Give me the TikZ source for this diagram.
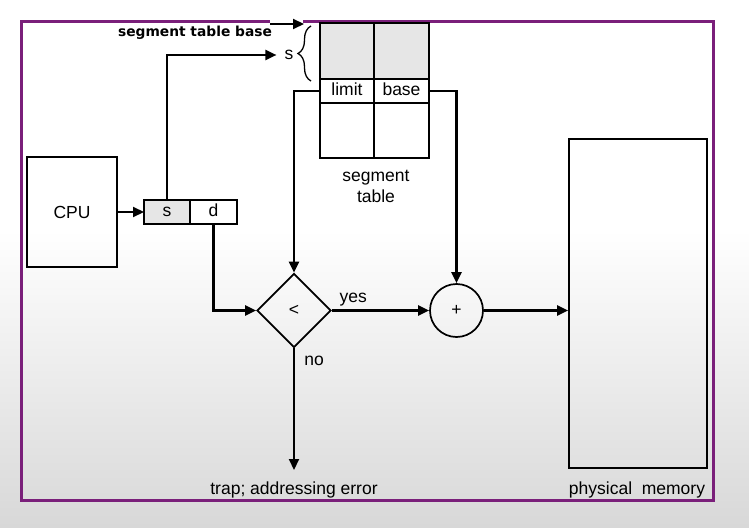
\documentclass[tikz,border=0pt]{standalone}
\usepackage{fontspec}
\setmainfont{Liberation Sans}
\newfontfamily\basefont{DejaVu Sans}
\usetikzlibrary{arrows.meta,positioning,shapes.geometric,decorations.pathreplacing}
\definecolor{framepurple}{HTML}{7A1F7A}
\definecolor{cellgray}{HTML}{E6E6E6}
\definecolor{bggray}{HTML}{D8D8D8}

\begin{document}
\begin{tikzpicture}[
  x=1pt, y=-1pt,
  every node/.style={font=\fontsize{17.5}{21}\selectfont},
  box/.style={draw, line width=1.7pt, inner sep=0pt},
  cell/.style={box, outer sep=0pt, minimum height=24pt, text height=12pt, text depth=3.5pt},
  tabcell/.style={box, outer sep=0pt},
  arrow/.style={-{Triangle[length=11pt,width=10pt]}, line width=2.1pt},
  framebox/.style={draw=framepurple, line width=3pt},
  bracemark/.style={line width=1.3pt, decorate, decoration={brace, amplitude=13pt}}
]
  \useasboundingbox (0,0) rectangle (749,527);

  % background and purple frame
  \fill[white] (0,0) rectangle (749,230);
  \shade[top color=white, bottom color=bggray] (0,230) rectangle (749,527);
  \draw[framebox] (270,21.5) -| (21.5,500.5) -| (713,21.5) -- (303,21.5);

  % CPU and logical address
  \node[box, minimum width=90pt, minimum height=110pt] (cpu) at (72,212) {CPU};
  \node[cell, fill=cellgray, minimum width=46pt] (scell) at (167,212) {s};
  \node[cell, minimum width=47pt, right=0pt of scell] (dcell) {d};

  % segment table
  \node[tabcell, fill=cellgray, minimum width=54pt, minimum height=56pt] (topl) at (347,51) {};
  \node[tabcell, fill=cellgray, minimum width=55pt, minimum height=56pt, right=0pt of topl] (topr) {};
  \node[cell, minimum width=54pt, below=0pt of topl] (limit) {limit};
  \node[cell, minimum width=55pt, below=0pt of topr] (base) {base};
  \node[tabcell, minimum width=54pt, minimum height=55pt, below=0pt of limit] (botl) {};
  \node[tabcell, minimum width=55pt, minimum height=55pt, below=0pt of base] (botr) {};
  \node[align=center] (segtab) at (376,186) {segment\\table};

  % comparator, adder, memory
  \node[box, diamond, minimum width=74pt, minimum height=74pt] (cmp) at (294,310.5) {<};
  \node[box, circle, minimum size=53pt] (adder) at (456.5,310.5) {+};
  \node[box, minimum width=138pt, minimum height=329pt] (mem) at (638,303.5) {};

  % labels
  \node[inner xsep=8pt] (sidx) at (289,55) {s};
  \node[font=\basefont\bfseries\fontsize{13.8}{16}\selectfont] (stbase) at (195,33) {segment table base};
  \node (trap) at (294,490) {trap; addressing error};
  \node (memlbl) at (637,490) {physical\ \ memory};
  \coordinate (trapin) at (294,470);
  \coordinate (stail) at (270,24);
  \coordinate (shead) at (304,24);

  \draw[bracemark] (311,81) -- (311,26);

  % connectors
  \draw[arrow] (cpu.east) -- (scell.west);
  \draw[arrow] (scell.north) |- (sidx.west);
  \draw[arrow] (stail) -- (shead);
  \draw[arrow] (limit.west) -| (cmp.north);
  \draw[arrow] (base.east) -| (adder.north);
  \draw[arrow] (dcell.south) |- (cmp.west);
  \draw[arrow] (cmp.east) -- node[above, pos=.22] (yes) {yes} (adder.west);
  \draw[arrow] (adder.east) -- (adder.east -| mem.west);
  \draw[arrow] (cmp.south) -- node[right, pos=.1, xshift=6pt] (no) {no} (trapin);
\end{tikzpicture}
\end{document}
